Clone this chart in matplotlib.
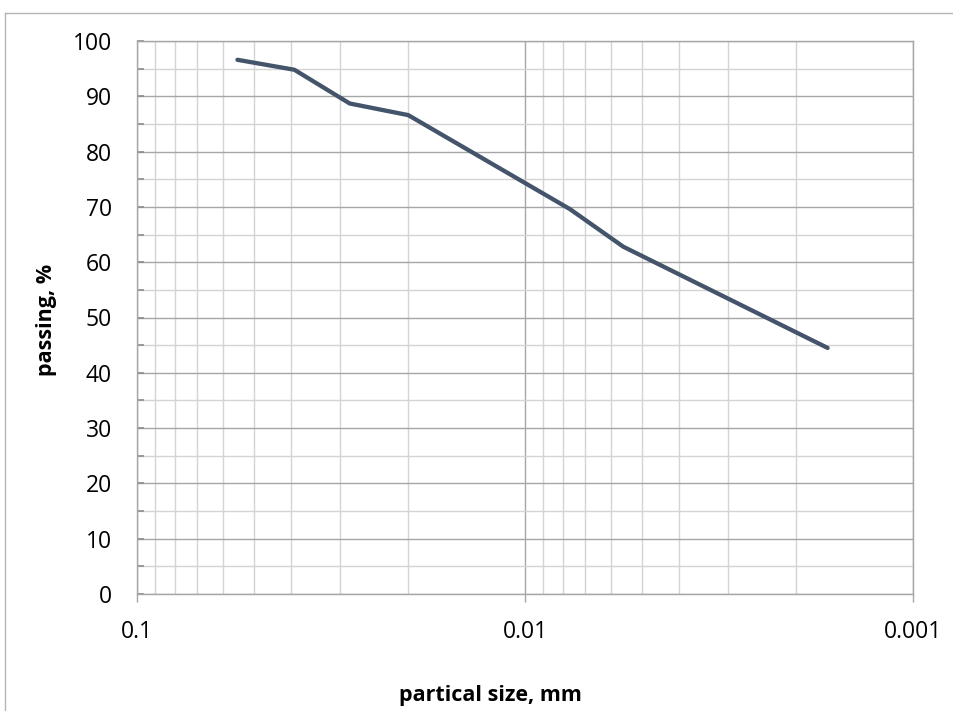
import matplotlib
matplotlib.use("Agg")
import matplotlib.pyplot as plt
from matplotlib.ticker import LogLocator, FixedLocator, NullFormatter, FixedFormatter, MultipleLocator
from matplotlib.lines import Line2D

# Data
size_mm = [0.0551, 0.0393, 0.0283, 0.0200, 0.00766, 0.00558, 0.00166]
passing = [96.6, 94.8, 88.7, 86.6, 69.6, 62.8, 44.5]

x_ticks = [0.1, 0.01, 0.001]
x_tick_labels = ["0.1", "0.01", "0.001"]
y_ticks = list(range(0, 101, 10))

plt.rcParams['font.family'] = ['Open Sans', 'DejaVu Sans']

W, H = 954, 711
fig = plt.figure(figsize=(W / 100, H / 100), dpi=100)
L, R, T, B = 137, 913, 41, 594
ax = fig.add_axes([L / W, 1 - B / H, (R - L) / W, (B - T) / H])

ax.plot(size_mm, passing, color='#44546A', lw=3.1, solid_capstyle='round', solid_joinstyle='round', zorder=3)

ax.set_xscale('log')
ax.set_xlim(0.1, 0.001)
ax.set_ylim(0, 100)

ax.xaxis.set_major_locator(FixedLocator(x_ticks))
ax.xaxis.set_major_formatter(FixedFormatter(x_tick_labels))
ax.xaxis.set_minor_locator(LogLocator(base=10, subs=range(2, 10)))
ax.xaxis.set_minor_formatter(NullFormatter())
ax.yaxis.set_major_locator(FixedLocator(y_ticks))
ax.yaxis.set_minor_locator(MultipleLocator(5))

ax.grid(which='major', color='#a6a6a6', lw=1.0)
ax.grid(which='minor', color='#d4d4d4', lw=1.0)
ax.set_axisbelow(True)

for s in ax.spines.values():
    s.set_color('#a6a6a6')
    s.set_linewidth(1.0)

ax.tick_params(axis='x', which='major', direction='out', length=5.5, width=1, color='#a6a6a6',
               labelsize=16.5, pad=13, labelcolor='black')
ax.tick_params(axis='x', which='minor', length=0)
ax.tick_params(axis='y', which='both', direction='in', length=5, width=1.2, color='#8c8c8c',
               labelsize=16.5, pad=18, labelcolor='black')

fig.text(490 / W, 1 - 695 / H, 'partical size, mm', ha='center', va='center', fontsize=15.5, fontweight='bold')
fig.text(47 / W, 1 - 320 / H, 'passing, %', ha='center', va='center', rotation=90, fontsize=15.5, fontweight='bold')

# Chart-area border (left and top edges visible)
fig.add_artist(Line2D([5 / W, 5 / W], [0, 1 - 13 / H], transform=fig.transFigure, color='#b4b4b4', lw=1.0))
fig.add_artist(Line2D([5 / W, 1], [1 - 13 / H, 1 - 13 / H], transform=fig.transFigure, color='#b4b4b4', lw=1.0))

fig.savefig('out.png', dpi=100)
